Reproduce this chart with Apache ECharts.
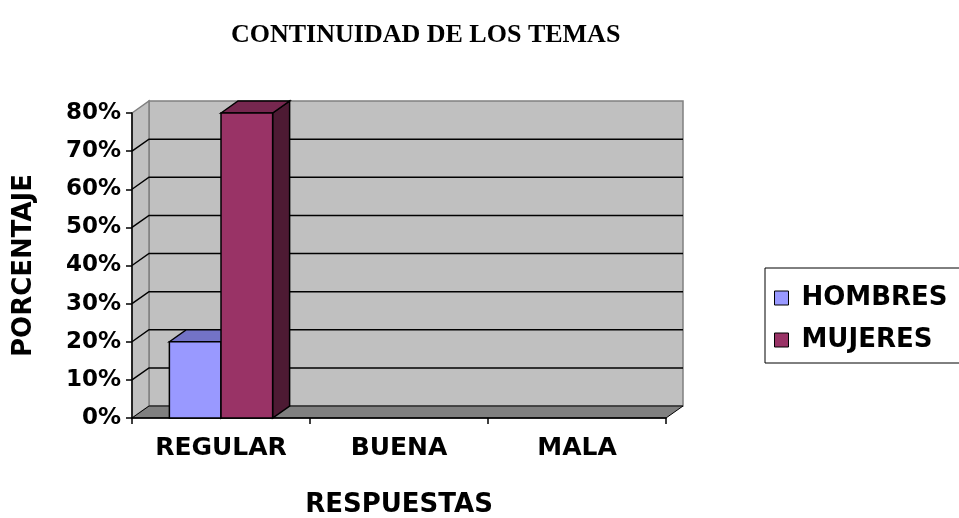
<!DOCTYPE html>
<html>
<head>
<meta charset="utf-8">
<script src="https://cdn.jsdelivr.net/npm/echarts@6/dist/echarts.min.js"></script>
<style>html,body{margin:0;padding:0;background:#fff}#c{width:959px;height:518px}</style>
</head>
<body>
<div id="c"></div>
<script>
var categories = ['REGULAR', 'BUENA', 'MALA'];
var hombres = [20, 0, 0];
var mujeres = [80, 0, 0];
var yTicks = [0, 10, 20, 30, 40, 50, 60, 70, 80];
var seriesNames = ['HOMBRES', 'MUJERES'];

var DX = 17, DY = 12;
var SANS = 'DejaVu Sans';

var chart = echarts.init(document.getElementById('c'), null, {renderer: 'canvas'});

function wallsRender(params, api) {
  var cs = params.coordSys;
  var x0 = cs.x, x1 = cs.x + cs.width;
  var yTop = api.coord([0, 80])[1];
  var yBot = api.coord([0, 0])[1];
  var children = [];
  children.push({type: 'polygon', shape: {points: [[x0 + DX, yTop - DY], [x1 + DX, yTop - DY], [x1 + DX, yBot - DY], [x0 + DX, yBot - DY]]},
    style: {fill: '#c0c0c0', stroke: '#808080', lineWidth: 1.5}});
  children.push({type: 'polygon', shape: {points: [[x0, yTop], [x0 + DX, yTop - DY], [x0 + DX, yBot - DY], [x0, yBot]]},
    style: {fill: '#c0c0c0', stroke: '#808080', lineWidth: 1.5}});
  for (var i = 0; i < yTicks.length; i++) {
    var v = yTicks[i];
    if (v === 0 || v === 80) continue;
    var y = api.coord([0, v])[1];
    children.push({type: 'polyline', shape: {points: [[x0, y], [x0 + DX, y - DY], [x1 + DX, y - DY]]},
      style: {stroke: '#000', lineWidth: 1.5, fill: null}});
  }
  children.push({type: 'polygon', shape: {points: [[x0, yBot], [x0 + DX, yBot - DY], [x1 + DX, yBot - DY], [x1, yBot]]},
    style: {fill: '#808080', stroke: '#000', lineWidth: 1}});
  return {type: 'group', children: children};
}

function barRender(side, front, top, sideC) {
  return function (params, api) {
    var ci = api.value(0), v = api.value(1);
    if (!v) return null;
    var p = api.coord([ci, v]);
    var b = api.coord([ci, 0]);
    var bw = api.size([1, 0])[0];
    var w = bw * 0.29;
    var xa = side === 0 ? p[0] - w : p[0];
    var xb = side === 0 ? p[0] : p[0] + w;
    var yt = p[1], yb = b[1];
    return {type: 'group', children: [
      {type: 'polygon', shape: {points: [[xb, yt], [xb + DX, yt - DY], [xb + DX, yb - DY], [xb, yb]]},
        style: {fill: sideC, stroke: '#000', lineWidth: 1.5}},
      {type: 'polygon', shape: {points: [[xa, yt], [xa + DX, yt - DY], [xb + DX, yt - DY], [xb, yt]]},
        style: {fill: top, stroke: '#000', lineWidth: 1.5}},
      {type: 'rect', shape: {x: xa, y: yt, width: xb - xa, height: yb - yt},
        style: {fill: front, stroke: '#000', lineWidth: 1.5}}
    ]};
  };
}

function toData(arr) { return arr.map(function (v, i) { return [i, v]; }); }

chart.setOption({
  animation: false,
  backgroundColor: '#fff',
  title: {
    text: 'CONTINUIDAD DE LOS TEMAS',
    left: 226, top: 17,
    textStyle: {fontFamily: 'Liberation Serif', fontWeight: 'bold', fontSize: 26, color: '#000'}
  },
  legend: {
    data: seriesNames,
    orient: 'vertical',
    left: 765, top: 268,
    padding: [17, 12, 10, 9],
    itemWidth: 14, itemHeight: 14, itemGap: 16,
    icon: 'rect',
    borderColor: '#000', borderWidth: 1,
    itemStyle: {borderColor: '#000', borderWidth: 1},
    textStyle: {fontFamily: SANS, fontWeight: 'bold', fontSize: 26, color: '#000', padding: [0, 0, 0, 8]}
  },
  grid: {left: 132, right: 293, top: 113, bottom: 100, containLabel: false, outerBoundsMode: 'none'},
  xAxis: {
    type: 'category',
    data: categories,
    name: 'RESPUESTAS',
    nameLocation: 'middle',
    nameGap: 74,
    nameTextStyle: {fontFamily: SANS, fontWeight: 'bold', fontSize: 26, color: '#000'},
    axisLine: {show: true, lineStyle: {color: '#000', width: 1.5}},
    axisTick: {show: true, length: 6, alignWithLabel: false, lineStyle: {color: '#000', width: 1.5}},
    axisLabel: {fontFamily: SANS, fontWeight: 'bold', fontSize: 25, color: '#000', margin: 18},
    splitLine: {show: false}
  },
  yAxis: {
    type: 'value',
    min: 0, max: 80, interval: 10,
    name: 'PORCENTAJE',
    nameLocation: 'middle',
    nameRotate: 90,
    nameGap: 95,
    nameTextStyle: {fontFamily: SANS, fontWeight: 'bold', fontSize: 26, color: '#000'},
    axisLine: {show: true, lineStyle: {color: '#000', width: 1.5}},
    axisTick: {show: true, length: 6, lineStyle: {color: '#000', width: 1.5}},
    axisLabel: {formatter: '{value}%', fontFamily: SANS, fontWeight: 'bold', fontSize: 23, color: '#000', margin: 11},
    splitLine: {show: false}
  },
  series: [
    {type: 'custom', name: '_walls', z: -1, silent: true, renderItem: wallsRender, data: [[0, 0]], encode: {x: 0, y: 1}},
    {type: 'custom', name: 'HOMBRES', z: 3, renderItem: barRender(0, '#9999ff', '#7373c6', '#4d4d80'),
      itemStyle: {color: '#9999ff'}, data: toData(hombres), encode: {x: 0, y: 1}},
    {type: 'custom', name: 'MUJERES', z: 4, renderItem: barRender(1, '#993366', '#76274f', '#4d1a33'),
      itemStyle: {color: '#993366'}, data: toData(mujeres), encode: {x: 0, y: 1}}
  ]
});
</script>
</body>
</html>
